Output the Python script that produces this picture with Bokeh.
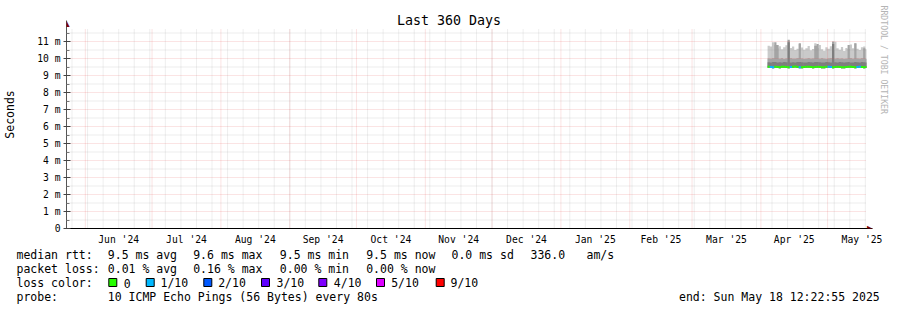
import math
import datetime as dt
from bokeh.plotting import figure
from bokeh.models import Range1d, FixedTicker, Label, Title
from bokeh.layouts import column
from bokeh.embed import file_html
from bokeh.resources import INLINE
from bokeh.core.properties import value

# ---------------- data ----------------
END_TIME = dt.datetime(2025, 5, 18, 12, 22, 55)
SPAN_DAYS = 360
FIRST_BIN = dt.datetime(2025, 4, 4)   # first day with data (one bin per day)

median_rtt_ms = [9.52, 9.50, 9.49, 9.51, 9.50, 9.48, 9.51, 9.52, 9.50, 9.49,
                 9.50, 9.51, 9.53, 9.50, 9.49, 9.48, 9.50, 9.51, 9.52, 9.50,
                 9.49, 9.50, 9.51, 9.50, 9.48, 9.49, 9.51, 9.52, 9.50, 9.49,
                 9.50, 9.51, 9.50, 9.48, 9.49, 9.50, 9.52, 9.51, 9.50, 9.49,
                 9.50, 9.51, 9.50, 9.49, 9.50]
smoke_low_ms = [9.45, 9.44, 9.43, 9.45, 9.44, 9.42, 9.45, 9.46, 9.44, 9.43,
                9.44, 9.45, 9.47, 9.44, 9.43, 9.42, 9.44, 9.45, 9.46, 9.44,
                9.43, 9.44, 9.45, 9.44, 9.42, 9.43, 9.45, 9.46, 9.44, 9.43,
                9.44, 9.45, 9.44, 9.42, 9.43, 9.44, 9.46, 9.45, 9.44, 9.43,
                9.44, 9.45, 9.44, 9.43, 9.44]
smoke_p9_ms = [10.75, 10.70, 10.95, 10.80, 10.60, 10.72, 10.55, 10.66, 10.78, 11.05,
               10.62, 10.70, 10.50, 10.58, 10.85, 10.64, 10.52, 10.60, 10.74, 10.48,
               10.56, 10.90, 10.62, 10.80, 10.54, 10.46, 10.66, 10.58, 10.72, 10.50,
               10.98, 10.60, 10.52, 10.68, 10.44, 10.62, 10.56, 10.82, 10.60, 10.88,
               10.58, 10.50, 10.66, 10.70, 10.55]
smoke_p8_ms = [10.00, 9.98, 10.02, 10.95, 10.80, 9.99, 10.01, 9.97, 10.00, 11.10,
               10.02, 9.98, 9.99, 10.01, 10.90, 10.00, 9.97, 9.99, 10.02, 9.98,
               10.00, 10.75, 10.85, 9.99, 10.01, 9.98, 9.97, 10.00, 10.02, 11.00,
               9.99, 10.01, 9.98, 10.00, 9.97, 9.99, 10.80, 10.01, 9.98, 10.90,
               10.00, 9.99, 10.02, 10.60, 9.98]
smoke_p7_ms = [9.78, 9.76, 9.79, 9.80, 9.77, 9.78, 9.76, 9.79, 9.78, 10.95,
               9.77, 9.78, 9.76, 9.79, 9.80, 9.78, 9.77, 9.76, 9.79, 9.78,
               9.77, 9.80, 9.79, 9.78, 9.76, 9.77, 9.79, 9.78, 9.77, 10.85,
               9.78, 9.76, 9.79, 9.78, 9.77, 9.78, 9.80, 9.77, 9.76, 9.79,
               9.78, 9.77, 9.79, 9.78, 9.76]
loss_pings = [0, 1, 1, 0, 0, 0, 0, 0, 0, 0,
              1, 0, 0, 0, 1, 0, 0, 0, 0, 0,
              0, 0, 0, 0, 0, 0, 0, 1, 1, 0,
              0, 0, 0, 0, 0, 0, 0, 0, 0, 0,
              1, 1, 0, 0, 0]

loss_levels = [0, 1, 2, 3, 4, 5, 9]
loss_colors = ["#26ff00", "#00b8ff", "#0059ff", "#5e00ff", "#7e00ff", "#dd00ff", "#ff0000"]
loss_names = ["0", "1/10", "2/10", "3/10", "4/10", "5/10", "9/10"]

month_names = ["Jun '24", "Jul '24", "Aug '24", "Sep '24", "Oct '24", "Nov '24",
               "Dec '24", "Jan '25", "Feb '25", "Mar '25", "Apr '25", "May '25"]
month_starts = [dt.datetime(2024, m, 1) for m in range(6, 13)] + \
               [dt.datetime(2025, m, 1) for m in range(1, 7)]
y_ticks_ms = list(range(0, 12))

title_text = "Last 360 Days"
y_label = "Seconds"
watermark = "RRDTOOL / TOBI OETIKER"
rtt_row = ["9.5 ms avg", "9.6 ms max", "9.5 ms min", "9.5 ms now", "0.0 ms sd", "336.0", "am/s"]
loss_row = ["0.01 % avg", "0.16 % max", "0.00 % min", "0.00 % now"]
probe_text = "10 ICMP Echo Pings (56 Bytes) every 80s"
end_text = "end: Sun May 18 12:22:55 2025"

# ---------------- helpers ----------------
EPOCH = dt.datetime(1970, 1, 1)
def to_ms(d):
    return (d - EPOCH).total_seconds() * 1000.0

START_TIME = END_TIME - dt.timedelta(days=SPAN_DAYS)
T0, T1 = to_ms(START_TIME), to_ms(END_TIME)
Y_TOP = 11.765e-3
GL, GT, GW, GH = 66, 28, 800, 200

def xd(px):
    return T0 + (px - GL) * (T1 - T0) / GW

def yd(py):
    return (GT + GH - py) * Y_TOP / GH

MONO = value("DejaVu Sans Mono")
n = len(median_rtt_ms)
lefts = [to_ms(FIRST_BIN + dt.timedelta(days=i)) for i in range(n)]
rights = [min(to_ms(FIRST_BIN + dt.timedelta(days=i + 1)), T1) for i in range(n)]

def steps(vals):
    xs, ys = [], []
    for l, r, v in zip(lefts, rights, vals):
        xs += [l, r]
        ys += [v * 1e-3, v * 1e-3]
    return xs, ys

# ---------------- main graph ----------------
p = figure(width=897, height=248, title=None,
           x_range=Range1d(T0, xd(872)), y_range=Range1d(0, yd(0)),
           min_border_left=66, min_border_right=25, min_border_top=0, min_border_bottom=20,
           output_backend="svg", toolbar_location=None,
           background_fill_color="white", border_fill_color="white")
p.outline_line_color = None
p.xgrid.grid_line_color = None
p.ygrid.grid_line_color = None
p.frame_align = False

xs, lo = steps(smoke_low_ms)
_, h9 = steps(smoke_p9_ms)
_, h8 = steps(smoke_p8_ms)
_, h7 = steps(smoke_p7_ms)
p.varea(x=xs, y1=lo, y2=h9, fill_color="#cacaca")
p.varea(x=xs, y1=lo, y2=h8, fill_color="#a4a4a4")
p.varea(x=xs, y1=lo, y2=h7, fill_color="#7e7e7e")

# grid
minor_y = [(k + 0.5) * 1e-3 for k in y_ticks_ms]
major_y = [k * 1e-3 for k in y_ticks_ms[1:]]
weeks = []
d = START_TIME.replace(hour=0, minute=0, second=0) + dt.timedelta(days=1)
while d.weekday() != 6:
    d += dt.timedelta(days=1)
while d <= END_TIME:
    weeks.append(to_ms(d))
    d += dt.timedelta(days=7)
months = [to_ms(m) for m in month_starts if START_TIME < m < END_TIME]

grid_minor = dict(line_color="#9a9a9a", line_alpha=0.33, line_width=1, line_dash="1 1")
grid_major = dict(line_color="#e04848", line_alpha=0.3, line_width=1, line_dash="1 1")
p.segment(x0=[T0] * len(minor_y), x1=[T1] * len(minor_y), y0=minor_y, y1=minor_y, **grid_minor)
p.segment(x0=weeks, x1=weeks, y0=[0] * len(weeks), y1=[Y_TOP] * len(weeks), **grid_minor)
p.segment(x0=[T0] * len(major_y), x1=[T1] * len(major_y), y0=major_y, y1=major_y, **grid_major)
p.segment(x0=months, x1=months, y0=[0] * len(months), y1=[Y_TOP] * len(months), **grid_major)

# median line coloured by loss
seg_colors = [loss_colors[loss_levels.index(l)] for l in loss_pings]
med = [v * 1e-3 for v in median_rtt_ms]
p.segment(x0=lefts, x1=rights, y0=med, y1=med, line_color=seg_colors, line_width=2)

# axes
ya = p.yaxis[0]
yt = [k * 1e-3 for k in y_ticks_ms]
ya.ticker = FixedTicker(ticks=yt, minor_ticks=minor_y)
ya.major_label_overrides = {v: ("0" if k == 0 else f"{k} m") for k, v in zip(y_ticks_ms, yt)}
ya.bounds = (0, yd(20))
ya.axis_line_color = "#555555"
ya.major_tick_in = 4
ya.major_tick_out = 3
ya.minor_tick_in = 3
ya.minor_tick_out = 0
ya.major_tick_line_color = "#444444"
ya.minor_tick_line_color = "#777777"
ya.major_label_standoff = 3
ya.major_label_text_font = "DejaVu Sans Mono"
ya.major_label_text_font_size = "9.7px"
ya.major_label_text_color = "black"
ya.axis_label = y_label
ya.axis_label_text_font = "DejaVu Sans Mono"
ya.axis_label_text_font_size = "11.5px"
ya.axis_label_text_font_style = "normal"
ya.axis_label_text_color = "black"
ya.axis_label_standoff = 17

xa = p.xaxis[0]
mids = [(to_ms(month_starts[i]) + to_ms(month_starts[i + 1])) / 2 for i in range(len(month_names))]
xa.ticker = FixedTicker(ticks=mids, minor_ticks=[])
xa.major_label_overrides = {m: name for m, name in zip(mids, month_names)}
xa.axis_line_color = "black"
xa.axis_line_width = 1
xa.major_tick_in = 0
xa.major_tick_out = 0
xa.minor_tick_in = 0
xa.minor_tick_out = 0
xa.major_label_standoff = 5
xa.major_label_text_font = "DejaVu Sans Mono"
xa.major_label_text_font_size = "9.7px"
xa.major_label_text_color = "black"

# watermark on the right side
wm = Title(text=watermark, align="left", offset=5, standoff=13,
           text_font="DejaVu Sans Mono", text_font_size="8.2px", text_font_style="normal",
           text_color="#b4b4b4")
p.add_layout(wm, "right")

# arrows and title
p.add_layout(Label(x=xd(GL), y=yd(22.5), text="\u25b2", text_align="center", text_baseline="middle",
                   text_font="DejaVu Sans", text_font_size="8px", text_color="#800000"))
p.add_layout(Label(x=xd(869.5), y=yd(228), text="\u25b6", text_align="center", text_baseline="middle",
                   text_font="DejaVu Sans", text_font_size="8px", text_color="#800000"))
p.add_layout(Label(x=xd(448.5), y=yd(19.5), text=title_text, text_align="center", text_baseline="middle",
                   text_font="DejaVu Sans Mono", text_font_size="13.3px", text_color="black"))

# ---------------- legend area ----------------
q = figure(width=897, height=62, x_range=Range1d(0, 897), y_range=Range1d(310, 248),
           min_border=0, x_axis_location=None, y_axis_location=None,
           output_backend="svg", toolbar_location=None, title=None,
           background_fill_color="white", border_fill_color="white")
q.outline_line_color = None
q.xgrid.grid_line_color = None
q.ygrid.grid_line_color = None
q.frame_align = False

ROWS = [254.0, 268.0, 282.5, 296.5]
COL = [107.3, 192.7, 279.3, 365.7, 451.0, 530.0, 586.0]
texts, tx, ty = [], [], []
def put(s, x, y):
    texts.append(s); tx.append(x); ty.append(y)

put("median rtt:", 16, ROWS[0])
for s, x in zip(rtt_row, COL):
    put(s, x, ROWS[0])
put("packet loss:", 16, ROWS[1])
for s, x in zip(loss_row, COL):
    put(s, x, ROWS[1])
put("loss color:", 16, ROWS[2])
box_x = [108.3, 145.7, 203.3, 261.0, 318.3, 376.0, 435.7]
lab_x = [123.3, 160.0, 217.7, 276.0, 333.3, 390.7, 450.0]
for s, x in zip(loss_names, lab_x):
    put(s, x, ROWS[2])
put("probe:", 16, ROWS[3])
put(probe_text, 107.3, ROWS[3])
put(end_text, 678.5, ROWS[3])

q.text(x=tx, y=ty, text=texts, text_font=MONO, text_font_size="11.5px",
       text_baseline="alphabetic", text_align="left", text_color="black")
q.rect(x=[b + 4 for b in box_x], y=[282] * len(box_x), width=8, height=8,
       fill_color=loss_colors, line_color="black", line_width=1)

layout = column(p, q, spacing=0)
open("out.html", "w").write(file_html(layout, INLINE))
